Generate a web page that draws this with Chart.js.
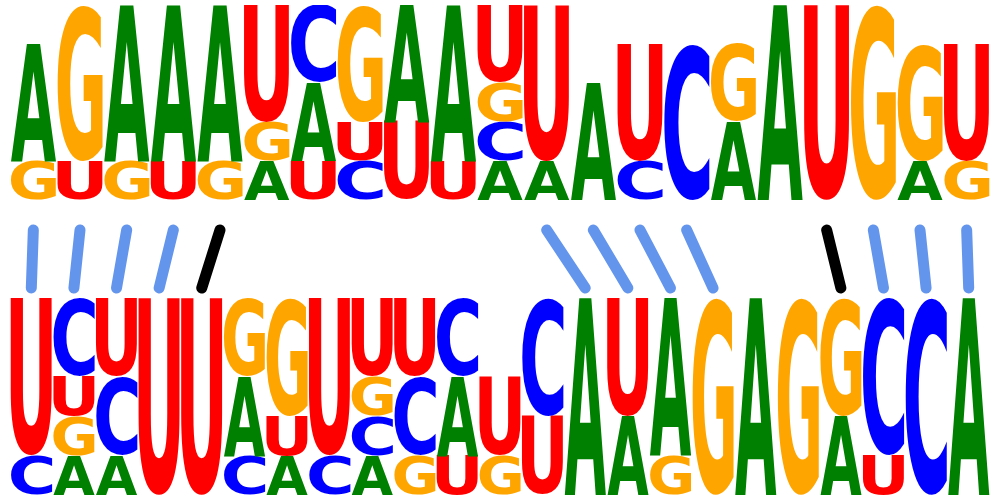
<!DOCTYPE html>
<html>
<head>
<meta charset="utf-8">
<script src="https://cdn.jsdelivr.net/npm/chart.js@4.4.0/dist/chart.umd.min.js"></script>
<style>
  html, body { margin: 0; padding: 0; background: #ffffff; width: 1000px; height: 500px; overflow: hidden; }
  canvas { position: absolute; }
  #topLogo { left: 10px; top: 5px; }
  #pairs { left: 10px; top: 224px; }
  #bottomLogo { left: 10px; top: 298px; }
</style>
</head>
<body>
<canvas id="topLogo" width="980" height="195"></canvas>
<canvas id="pairs" width="980" height="70"></canvas>
<canvas id="bottomLogo" width="980" height="197"></canvas>
<script>
// ---------- data ----------
const LETTERS = ['A', 'C', 'G', 'U'];
const topPositions = ['1','2','3','4','5','6','7','8','9','10','11','12','13','14','15','16','17','18','19','20','21'];
const topA = [3,0,4,4,4,1,2,0,3,4,1,1,3,0,0,2,5,0,0,1,0];
const topC = [0,0,0,0,0,0,2,1,0,0,1,0,0,1,4,0,0,0,0,0,0];
const topG = [1,4,1,0,1,1,0,3,0,0,1,0,0,0,0,2,0,0,5,3,1];
const topU = [0,1,0,1,0,3,1,1,2,1,2,4,0,3,0,0,0,5,0,0,3];

const bottomPositions = ['1','2','3','4','5','6','7','8','9','10','11','12','13','14','15','16','17','18','19','20','21','22','23'];
const botA = [0,1,1,0,0,2,1,0,1,0,2,0,0,5,2,4,0,5,0,2,0,0,5];
const botC = [1,2,2,0,0,1,0,1,1,2,2,0,3,0,0,0,0,0,0,0,4,5,0];
const botG = [0,1,0,0,0,2,3,0,1,1,0,1,0,0,0,1,5,0,5,3,0,0,0];
const botU = [4,1,2,5,5,0,1,4,2,2,1,2,2,0,3,0,0,0,0,0,1,0,0];

const sequenceCount = 5;

// base pairs: top position -> bottom position
const pairTop    = [1,2,3,4,5,12,13,14,15,18,19,20,21];
const pairBottom = [1,2,3,4,5,14,15,16,17,20,21,22,23];
const pairKind   = ['wc','wc','wc','wc','gu','wc','wc','wc','wc','gu','wc','wc','wc'];

// ---------- styles ----------
const letterColors = { A: '#008000', C: '#0000ff', G: '#ffa500', U: '#ff0000' };
const pairColors = { wc: '#6495ed', gu: '#000000' };

function buildLayers(counts) {
  const n = counts.A.length;
  const data = [[], [], [], []];
  const chars = [[], [], [], []];
  for (let i = 0; i < n; i++) {
    const items = LETTERS.map(l => ({ l, v: counts[l][i] }))
      .filter(o => o.v > 0)
      .sort((a, b) => (a.v - b.v) || a.l.localeCompare(b.l));
    for (let k = 0; k < 4; k++) {
      data[k].push(items[k] ? items[k].v : 0);
      chars[k].push(items[k] ? items[k].l : null);
    }
  }
  return data.map((d, k) => ({
    data: d, chars: chars[k],
    backgroundColor: 'rgba(0,0,0,0)', borderWidth: 0,
    barPercentage: 1, categoryPercentage: 0.97
  }));
}

function drawGlyph(ctx, ch, color, left, top, w, h) {
  ctx.save();
  ctx.font = 'bold 200px "DejaVu Sans"';
  ctx.textAlign = 'left';
  ctx.textBaseline = 'alphabetic';
  const m = ctx.measureText(ch);
  const gw = m.actualBoundingBoxLeft + m.actualBoundingBoxRight;
  const gh = m.actualBoundingBoxAscent + m.actualBoundingBoxDescent;
  ctx.translate(left, top);
  ctx.scale(w / gw, h / gh);
  ctx.fillStyle = color;
  ctx.fillText(ch, m.actualBoundingBoxLeft, m.actualBoundingBoxAscent);
  ctx.restore();
}

const glyphPlugin = {
  id: 'glyphs',
  afterDatasetsDraw(chart) {
    const ctx = chart.ctx;
    chart.data.datasets.forEach((ds, di) => {
      const meta = chart.getDatasetMeta(di);
      meta.data.forEach((el, i) => {
        const ch = ds.chars[i];
        if (!ch || !ds.data[i]) return;
        const p = el.getProps(['x', 'y', 'base', 'width'], true);
        const top = Math.min(p.y, p.base);
        const h = Math.abs(p.base - p.y);
        drawGlyph(ctx, ch, letterColors[ch], p.x - p.width / 2, top, p.width, h);
      });
    });
  }
};

function logo(id, labels, counts) {
  new Chart(document.getElementById(id), {
    type: 'bar',
    data: { labels, datasets: buildLayers(counts) },
    options: {
      responsive: false, animation: false,
      layout: { padding: 0 },
      plugins: { legend: { display: false }, tooltip: { enabled: false } },
      scales: {
        x: { display: false, stacked: true },
        y: { display: false, stacked: true, min: 0, max: sequenceCount }
      }
    },
    plugins: [glyphPlugin]
  });
}

logo('topLogo', topPositions, { A: topA, C: topC, G: topG, U: topU });
logo('bottomLogo', bottomPositions, { A: botA, C: botC, G: botG, U: botU });

// pairing lines
const pairDatasets = pairTop.map((t, k) => ({
  data: [
    { x: (t - 0.5) / topPositions.length, y: 1 },
    { x: (pairBottom[k] - 0.5) / bottomPositions.length, y: 0 }
  ],
  borderColor: pairColors[pairKind[k]],
  borderWidth: 11,
  borderCapStyle: 'round',
  pointRadius: 0,
  showLine: true,
  fill: false,
  clip: false
}));

new Chart(document.getElementById('pairs'), {
  type: 'scatter',
  data: { datasets: pairDatasets },
  options: {
    responsive: false, animation: false,
    layout: { padding: { top: 6, bottom: 6, left: 0, right: 0 } },
    plugins: { legend: { display: false }, tooltip: { enabled: false } },
    scales: {
      x: { type: 'linear', display: false, min: 0, max: 1 },
      y: { type: 'linear', display: false, min: 0, max: 1 }
    }
  }
});
</script>
</body>
</html>
